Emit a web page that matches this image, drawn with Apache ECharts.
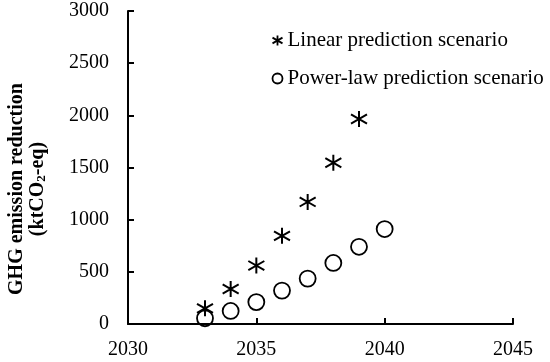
<!DOCTYPE html>
<html>
<head>
<meta charset="utf-8">
<script src="https://cdn.jsdelivr.net/npm/echarts@6/dist/echarts.min.js"></script>
<style>html,body{margin:0;padding:0;background:#fff}#c{width:550px;height:362px}</style>
</head>
<body>
<div id="c"></div>
<script>
var linearYears = [2033, 2034, 2035, 2036, 2037, 2038, 2039];
var linearValues = [150, 335, 560, 845, 1170, 1545, 1965];
var powerYears = [2033, 2034, 2035, 2036, 2037, 2038, 2039, 2040];
var powerValues = [55, 125, 210, 320, 435, 585, 740, 910];
var seriesNames = ['Linear prediction scenario', 'Power-law prediction scenario'];
var xTicks = [2030, 2035, 2040, 2045];
var yTicks = [0, 500, 1000, 1500, 2000, 2500, 3000];

function pairs(xs, ys) { return xs.map(function (x, i) { return [x, ys[i]]; }); }

var FONT = '"Liberation Serif", "Times New Roman", serif';
var chart = echarts.init(document.getElementById('c'), null, { renderer: 'canvas' });
var star = 'path://M7,0L7,14M0,3L14,11M0,11L14,3';

chart.setOption({
  animation: false,
  backgroundColor: '#fff',
  grid: { left: 128, right: 37, top: 11, bottom: 38 },
  xAxis: {
    type: 'value', min: xTicks[0], max: xTicks[xTicks.length - 1], interval: 5,
    axisLine: { lineStyle: { color: '#000', width: 2 } },
    axisTick: { inside: true, length: 6, lineStyle: { color: '#000', width: 2 } },
    splitLine: { show: false },
    axisLabel: { color: '#000', fontFamily: FONT, fontSize: 20, margin: 16, formatter: function (v) { return String(v); } }
  },
  yAxis: {
    type: 'value', min: yTicks[0], max: yTicks[yTicks.length - 1], interval: 500,
    axisLine: { show: true, lineStyle: { color: '#000', width: 2 } },
    axisTick: { show: true, inside: true, length: 6, lineStyle: { color: '#000', width: 2 } },
    splitLine: { show: false },
    axisLabel: { color: '#000', fontFamily: FONT, fontSize: 20, margin: 19, formatter: function (v) { return String(v); } }
  },
  legend: {
    orient: 'vertical', left: 270, top: 30, padding: 0, itemWidth: 10, itemHeight: 10, itemGap: 17,
    textStyle: { color: '#000', fontFamily: FONT, fontSize: 21 },
    data: [
      { name: seriesNames[0], icon: star, itemStyle: { color: 'none', borderColor: '#000', borderWidth: 1.8 } },
      { name: seriesNames[1], icon: 'circle', itemStyle: { color: 'none', borderColor: '#000', borderWidth: 1.8 } }
    ]
  },
  graphic: [{
    type: 'text', x: 27, y: 189, rotation: Math.PI / 2,
    style: {
      text: '{b|GHG emission reduction}\n{b|(ktCO}{s|2}{b|-eq)}',
      align: 'center', verticalAlign: 'middle', fill: '#000',
      rich: {
        b: { fontFamily: FONT, fontWeight: 'bold', fontSize: 20, lineHeight: 21, fill: '#000' },
        s: { fontFamily: FONT, fontWeight: 'bold', fontSize: 13, lineHeight: 21, verticalAlign: 'bottom', padding: [8, 0, 0, 0], fill: '#000' }
      }
    }
  }],
  series: [
    {
      name: seriesNames[0], type: 'scatter', symbol: star, symbolSize: 16,
      itemStyle: { color: 'none', borderColor: '#000', borderWidth: 2, opacity: 1 },
      data: pairs(linearYears, linearValues)
    },
    {
      name: seriesNames[1], type: 'scatter', symbol: 'circle', symbolSize: 16,
      itemStyle: { color: 'none', borderColor: '#000', borderWidth: 1.8, opacity: 1 },
      data: pairs(powerYears, powerValues)
    }
  ]
});
</script>
</body>
</html>
